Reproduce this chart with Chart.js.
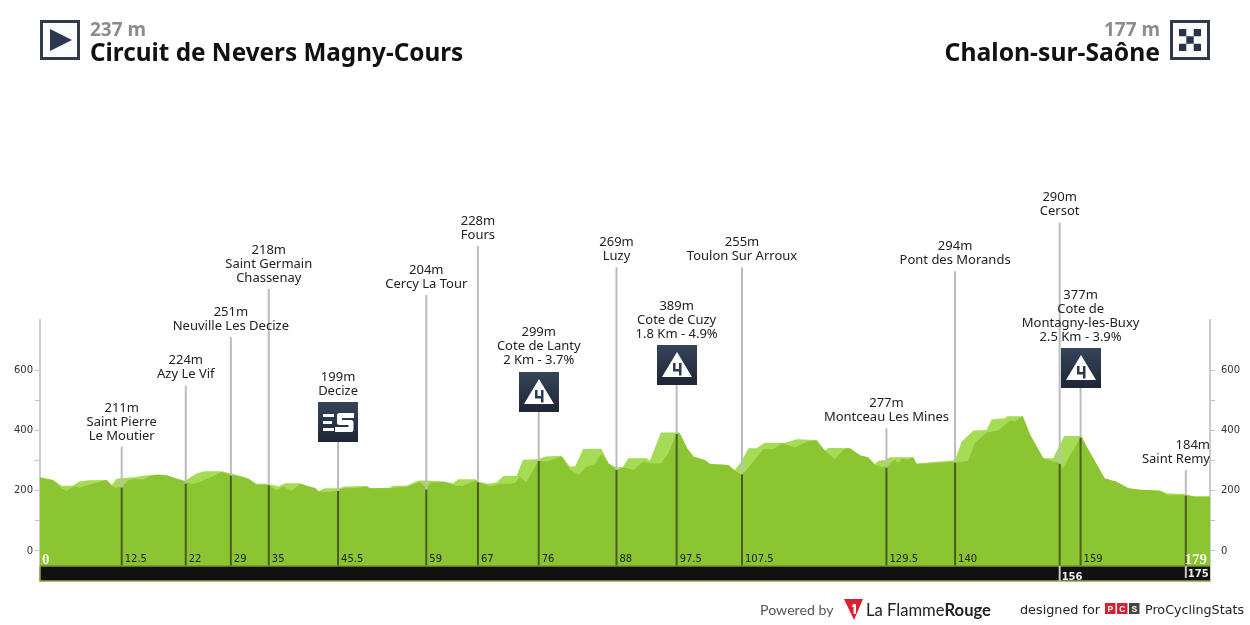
<!DOCTYPE html>
<html><head><meta charset="utf-8">
<script src="https://cdn.jsdelivr.net/npm/chart.js@4"></script>
<style>
html,body{margin:0;padding:0;background:#fff}
#wrap{position:relative;width:1250px;height:625px;overflow:hidden;font-family:"Noto Sans",sans-serif}
canvas{position:absolute;left:0;top:0}
.t{position:absolute;white-space:nowrap;line-height:1}
svg{position:absolute}
</style></head><body>
<div id="wrap">
<canvas id="c" width="1250" height="625"></canvas>
<svg style="left:40px;top:20px" width="40" height="40"><rect x="1.5" y="1.5" width="37" height="37" fill="#fcfcfc" stroke="#2e3a4a" stroke-width="3"/><path d="M10 9 L32 20 L10 31Z" fill="#2b3850"/></svg>
<div class="t" style="left:90px;top:16px;font:bold 19px 'Noto Sans';color:#8c8c8c">237 m</div>
<div class="t" style="left:90px;top:35px;font:bold 24.3px 'Noto Sans';color:#111">Circuit de Nevers Magny-Cours</div>
<svg style="left:1170px;top:20px" width="40" height="40"><rect x="1.5" y="1.5" width="37" height="37" fill="#fcfcfc" stroke="#2e3a4a" stroke-width="3"/><path d="M9 9h7.300v7.300H9zM23.700 9H31v7.300h-7.300zM16.300 16.300h7.400v7.400h-7.400zM9 23.700h7.300V31H9zM23.700 23.700H31V31h-7.300z" fill="#26334a"/></svg>
<div class="t" style="right:90px;top:16px;font:bold 19px 'Noto Sans';color:#8c8c8c">177 m</div>
<div class="t" style="right:90px;top:35px;font:bold 24.7px 'Noto Sans';color:#111">Chalon-sur-Saône</div>

<div class="t" style="left:760px;top:601px;font:14.2px Lato;color:#555">Powered by</div>
<svg style="left:843px;top:598px" width="22" height="23"><path d="M1 1H20L11 22Z" fill="#d8202f"/><path d="M10 6h3v10h-2.400V9H9z" fill="#fff"/></svg>
<div class="t" style="left:866px;top:600px;font:16.6px Lato;color:#222">La Flamme<b>Rouge</b></div>
<div class="t" style="left:1020px;top:602px;font:500 12.8px 'DejaVu Sans';color:#222">designed for</div>
<svg style="left:1105px;top:603px" width="36" height="12"><rect width="10.500" height="11" fill="#d8202f"/><rect x="12" width="10.500" height="11" fill="#d8202f"/><rect x="24" width="10.500" height="11" fill="#444"/><text x="5.250" y="9" font-size="8.500" font-weight="bold" font-family="Liberation Sans" text-anchor="middle" fill="#fff">P</text><text x="17.250" y="9" font-size="8.500" font-weight="bold" font-family="Liberation Sans" text-anchor="middle" fill="#fff">C</text><text x="29.250" y="9" font-size="8.500" font-weight="bold" font-family="Liberation Sans" text-anchor="middle" fill="#fff">S</text></svg>
<div class="t" style="left:1145px;top:602px;font:12.7px 'DejaVu Sans';color:#222">ProCyclingStats</div>
</div>
<script>
const lightKm = [0,0.8,2,3.3,5.1,5.9,7.4,10.2,11,11.7,14.3,15.8,17.9,19.4,20.9,22.2,24,25.2,27.8,29.1,30.6,31.9,33.1,34.9,36.5,37.5,39.8,40.8,42.1,42.6,43.6,45.6,46.7,50,50.5,53.5,54,56.1,57.4,58.1,59.7,61.7,63.2,64,66.6,67.1,68.6,69.9,70.9,72.9,73.9,76.3,77.3,79.8,81.1,81.9,83.1,85.9,87,88.2,89.2,90,92.8,93.3,95,97.7,99,100,101.7,102.5,105.3,106.3,107.1,108.4,109.6,110.9,114,115.8,118.8,120.1,120.6,122.4,123.9,125.5,126.7,127.7,128.3,129.3,130,133.6,134.1,136.2,139.2,140,141,142.8,144.8,145.6,147.6,147.9,150.4,151.5,153.5,155,156.7,159.4,160.4,162.9,164.7,166.5,168.3,171.4,172.4,175.4,176.5,179];
const lightAlt = [245,241,236,217,217,230,235,236,219,240,245,250,254,252,241,233,258,265,265,258,250,241,223,223,214,225,225,214,210,199,208,208,214,216,208,210,217,217,230,234,233,231,225,238,238,230,223,228,249,249,303,305,314,316,280,282,339,340,291,277,280,308,308,300,394,394,341,313,302,289,286,269,291,341,341,360,360,371,369,333,342,342,341,317,311,289,300,302,311,311,291,295,300,302,363,400,402,437,441,448,448,385,308,308,382,382,336,241,230,208,203,200,192,188,181,181];
const darkKm = [0,0.8,2,3.3,4.1,5.1,6.1,7.4,9.2,10.2,11,11.5,12.5,13.5,14.3,15.8,16.8,17.9,19.4,20.9,22.2,23.2,24.5,26.5,27.8,29.1,30.6,31.9,33.1,34.9,36.2,37.2,38.5,39.8,42.1,42.6,44.1,45.6,46.4,47.9,50,50.5,53.5,56.1,56.9,58.1,59.2,59.7,61.7,63.7,64.8,66.6,67.1,68.9,70.4,72.7,73.4,74.4,76.3,77.5,79.8,81.1,82.4,83.6,84.9,85.9,87,88.2,89.5,90.8,92.3,93.3,95,96.1,97.4,97.9,99,100,101.7,102.5,105.3,106.1,107.1,107.9,110.7,112.2,113.5,115.5,117.3,118.8,120.1,121.6,122.4,123.3,123.9,125.5,126.7,127.7,129,129.8,130.8,131.3,131.8,132.6,133.6,134.1,136.2,139.2,140,142,143,144.8,146.6,148.4,149.2,150.3,151.5,153.5,155,156,156.5,159.2,160.4,162.9,164.7,166.5,168.3,171.4,172.6,175.2,176.5,179];
const darkAlt = [245,241,236,208,199,216,210,219,230,236,217,210,214,234,239,237,248,253,250,240,231,222,230,248,262,253,247,239,220,220,201,214,199,223,208,197,197,200,208,208,214,208,208,214,219,230,208,227,230,217,217,234,228,214,223,225,247,228,300,297,313,271,252,280,288,324,291,269,277,269,297,291,291,324,391,391,341,313,302,289,286,269,256,264,339,338,358,344,363,367,333,305,325,341,341,317,311,286,278,286,305,291,308,302,311,289,291,296,295,299,358,394,400,433,430,448,385,308,297,293,275,378,336,241,230,208,203,200,184,186,181,181];

const markKm   = [12.5,22.3,29.2,35,45.6,59.1,67,76.3,88.2,97.4,107.4,129.5,140,156,159.2,175.3];
const markAlt  = [211,224,251,218,199,204,228,299,269,389,255,277,294,290,377,184];
const markName = [
 ["Saint Pierre","Le Moutier"],["Azy Le Vif"],["Neuville Les Decize"],["Saint Germain","Chassenay"],
 ["Decize"],["Cercy La Tour"],["Fours"],["Cote de Lanty","2 Km - 3.7%"],["Luzy"],
 ["Cote de Cuzy","1.8 Km - 4.9%"],["Toulon Sur Arroux"],["Montceau Les Mines"],["Pont des Morands"],
 ["Cersot"],["Cote de","Montagny-les-Buxy","2.5 Km - 3.9%"],["Saint Remy"]];
const markLabel = ["12.5","22","29","35","45.5","59","67","76","88","97.5","107.5","129.5","140","156","159","175"];
const markIcon  = ["","","","","sprint","","","climb","","climb","","","","","climb",""];
const inBar     = ["156","175"];
const barKm  = [0,179];
const barTop = [-50,-50];
const startLabel = "0";
const finishLabel = "179";

/* drawing-only settings: the height (in metres on the chart's own scale) where each marker stem ends */
const stemTop = [346,549,711,871,362,851,1014,463,943,552,943,408,930,1091,542,269];
const Y_MIN=-100, Y_MAX=767.7;

const ds=[];
ds.push({data:lightKm.map((x,i)=>({x,y:lightAlt[i]})),borderWidth:0,pointRadius:0,fill:'start',backgroundColor:'#a6dc55',order:9,tension:0});
ds.push({data:darkKm.map((x,i)=>({x,y:darkAlt[i]})),borderWidth:0,pointRadius:0,fill:'start',backgroundColor:'#8bc531',order:8,tension:0});
markKm.forEach((k,i)=>{
  ds.push({data:[{x:k,y:stemTop[i]},{x:k,y:markAlt[i]}],borderColor:'#bcbcbc',borderWidth:2,pointRadius:0,fill:false,clip:false,order:7});
  ds.push({data:[{x:k,y:markAlt[i]},{x:k,y:-50}],borderColor:'#4c5c22',borderWidth:2,pointRadius:0,fill:false,clip:false,order:7});
});
ds.push({data:barKm.map((x,i)=>({x,y:barTop[i]})),borderColor:'#75982f',borderWidth:1.500,pointRadius:0,fill:'start',backgroundColor:'#111111',order:5,clip:false});
ds.push({data:[{x:0,y:-50},{x:0,y:Y_MIN},{x:179,y:Y_MIN}],borderColor:'#8aa84a',borderWidth:1.500,pointRadius:0,fill:false,order:4,clip:false});
markKm.forEach((k,i)=>{const n=inBar.indexOf(markLabel[i]);if(n>=0)ds.push({data:[{x:k,y:-50},{x:k,y:n?-90:Y_MIN}],borderColor:'#c8c8c8',borderWidth:2,pointRadius:0,fill:false,order:3,clip:false});});

function icon(ctx,cx,bot,kind){
  const l=Math.round(cx)-20,t=bot-40;
  const g=ctx.createLinearGradient(0,t,0,bot);g.addColorStop(0,'#35445a');g.addColorStop(1,'#1f2635');
  ctx.fillStyle=g;ctx.fillRect(l,t,40,40);
  ctx.fillStyle='#fff';ctx.strokeStyle='#fff';
  if(kind==='climb'){
    ctx.beginPath();ctx.moveTo(l+20,t+7);ctx.lineTo(l+35,t+32);ctx.lineTo(l+5,t+32);ctx.closePath();ctx.fill();
    ctx.fillStyle='#2c3a4f';
    ctx.fillRect(l+16,t+18,2.500,8);ctx.fillRect(l+22,t+18,2.500,12.500);ctx.fillRect(l+16,t+24,8,2.500);
  }else{
    ctx.fillRect(l+5,t+12,11,3);ctx.fillRect(l+5,t+19,9,3);ctx.fillRect(l+5,t+26,11,3);
    ctx.lineWidth=5;ctx.lineJoin='round';ctx.lineCap='butt';ctx.beginPath();
    ctx.moveTo(l+36,t+13.500);ctx.lineTo(l+21.500,t+13.500);ctx.lineTo(l+21.500,t+20.500);ctx.lineTo(l+33,t+20.500);ctx.lineTo(l+33,t+27.500);ctx.lineTo(l+17,t+27.500);ctx.stroke();
  }
}
const overlay={id:'overlay',afterDatasetsDraw(ch){
  const c=ch.ctx,xs=ch.scales.x,ys=ch.scales.y;
  c.save();c.textBaseline='middle';
  const yKm=ys.getPixelForValue(-29);
  markKm.forEach((k,i)=>{
    const px=xs.getPixelForValue(k);const top=ys.getPixelForValue(stemTop[i]);
    let b=top;
    if(markIcon[i]){icon(c,px,Math.round(top),markIcon[i]);b=top-40;}
    const names=[markAlt[i]+'m',...markName[i]];
    c.font="13px 'Noto Sans'";c.fillStyle='#222';
    const maxW=Math.max(...names.map(n=>c.measureText(n).width));
    names.forEach((n,j)=>{
      const y=b-11-(names.length-1-j)*14;
      c.textAlign='center';
      let tx=px;
      if(tx+maxW/2>xs.right){c.textAlign='right';tx=xs.right;}
      c.fillText(n,tx,y);
    });
    if(inBar.includes(markLabel[i])){
      c.font="bold 10px 'DejaVu Sans'";c.fillStyle='#eee';c.textAlign='left';
      c.fillText(markLabel[i],px+2,markLabel[i]==='156'?ys.getPixelForValue(-87):ys.getPixelForValue(-78));
    }else{
      c.font="10px 'DejaVu Sans'";c.fillStyle='#222';c.textAlign='left';
      c.fillText(markLabel[i],px+3,yKm);
    }
  });
  c.font="bold 15px 'Liberation Serif'";c.fillStyle='#f4f8ea';
  c.textAlign='left';c.fillText(startLabel,xs.left+2,yKm);
  c.textAlign='right';c.fillText(finishLabel,xs.right-3,yKm);
  c.restore();
}};
const tickCfg={color:'#333',font:{family:'DejaVu Sans',size:10},autoSkip:false,maxRotation:0,
  callback:v=>v%200===0?String(v):''};
function axis(pos,pad){return{type:'linear',position:pos,min:Y_MIN,max:Y_MAX,
  ticks:{...tickCfg,padding:pad,stepSize:100},
  grid:{drawOnChartArea:false,drawTicks:true,tickLength:5,tickColor:'#c4c4c4',lineWidth:1},
  border:{display:true,color:'#cccccc',width:2},
  afterBuildTicks:s=>{s.ticks=s.ticks.filter(t=>t.value%100===0&&t.value>=0&&t.value<=600);},
  afterFit:s=>{s.width=40;}};}
new Chart(document.getElementById('c'),{type:'line',data:{datasets:ds},plugins:[overlay],options:{
  responsive:false,animation:false,
  layout:{padding:{top:320,bottom:44,left:0,right:0}},
  plugins:{legend:{display:false},title:{display:false},tooltip:{enabled:false}},
  scales:{x:{type:'linear',min:0,max:179,display:false},y:axis('left',2),y2:axis('right',6)}
}});
</script>
</body></html>
